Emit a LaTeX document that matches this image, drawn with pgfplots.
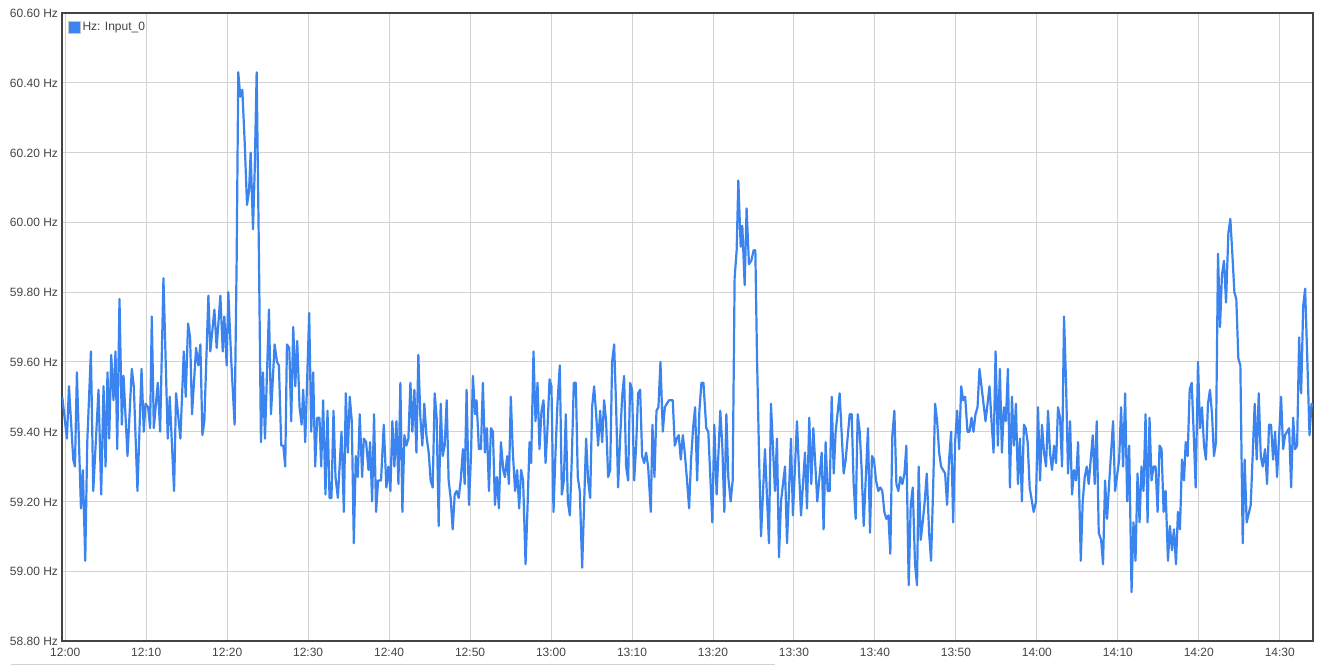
\documentclass[border=0pt]{standalone}
\usepackage{fontspec}
\setmainfont{Liberation Sans}
\usepackage{pgfplots}
\pgfplotsset{compat=1.18}
\definecolor{hzblue}{HTML}{3B84F0}
\definecolor{gridgray}{HTML}{D2D2D2}
\definecolor{framegray}{HTML}{444444}
\definecolor{labelgray}{HTML}{444444}
\begin{document}
\begin{tikzpicture}
\path[use as bounding box] (-62pt,-25pt) rectangle (1262pt,641pt);
\begin{axis}[
  at={(0pt,0pt)}, anchor=south west,
  scale only axis,
  width=1251pt, height=628pt,
  xmin=-0.4, xmax=154.1,
  ymin=58.8, ymax=60.6,
  xtick={0,10,20,30,40,50,60,70,80,90,100,110,120,130,140,150},
  xticklabels={12:00,12:10,12:20,12:30,12:40,12:50,13:00,13:10,13:20,13:30,13:40,13:50,14:00,14:10,14:20,14:30},
  ytick={58.8,59.0,59.2,59.4,59.6,59.8,60.0,60.2,60.4,60.6},
  /pgf/number format/assume math mode=true,
  yticklabel={\pgfmathprintnumber[fixed,fixed zerofill,precision=2]{\tick}~Hz},
  grid=major,
  major grid style={gridgray, line width=1pt},
  major tick length=0pt,
  axis line style={framegray, line width=2pt},
  tick label style={font=\fontsize{12}{14}\selectfont, text=labelgray},
  xticklabel style={yshift=-3.5pt},
  yticklabel style={yshift=-0.5pt, xshift=-0.5pt},
  legend style={at={(0,1)}, anchor=north west, xshift=5.5pt, yshift=-7pt,
    draw=none, fill=none, inner sep=0pt,
    font=\fontsize{12}{14}\selectfont, text=labelgray,
    /tikz/every even column/.append style={column sep=0pt}},
  legend cell align=left,
  legend image code/.code={\filldraw[fill=hzblue, draw=gray!45, line width=0.8pt] (0pt,-6pt) rectangle (12pt,6pt);},
]
\addplot[hzblue, line width=2.2pt, line join=round, mark=none] coordinates {
(-0.37,59.50)(0.21,59.38)(0.46,59.53)(0.99,59.32)(1.20,59.30)(1.44,59.57)(1.94,59.18)(2.18,59.29)(2.47,59.03)(2.72,59.37)(3.17,59.63)(3.46,59.23)(4.11,59.52)(4.44,59.22)(4.73,59.53)(4.98,59.30)(5.22,59.57)(5.43,59.38)(5.68,59.62)(5.96,59.49)(6.21,59.63)(6.42,59.35)(6.70,59.78)(6.99,59.42)(7.20,59.56)(7.69,59.33)(8.22,59.58)(8.47,59.53)(8.92,59.23)(9.42,59.58)(9.70,59.40)(9.91,59.48)(10.24,59.47)(10.48,59.41)(10.69,59.73)(10.94,59.41)(11.43,59.54)(11.72,59.40)(12.13,59.84)(12.66,59.38)(12.91,59.50)(13.44,59.23)(13.69,59.51)(14.22,59.38)(14.64,59.63)(14.88,59.50)(15.17,59.71)(15.42,59.67)(15.66,59.45)(16.16,59.64)(16.44,59.59)(16.69,59.65)(16.94,59.39)(17.18,59.43)(17.68,59.79)(17.92,59.63)(18.42,59.75)(18.70,59.64)(19.16,59.79)
(19.45,59.63)(19.65,59.73)(19.94,59.59)(20.14,59.80)(20.51,59.60)(20.92,59.42)(21.17,59.89)(21.37,60.43)(21.62,60.36)(21.87,60.38)(22.16,60.23)(22.45,60.05)(22.70,60.09)(22.90,60.20)(23.19,59.98)(23.40,60.15)(23.64,60.43)(23.93,59.89)(24.17,59.37)(24.42,59.57)(24.67,59.38)(25.16,59.75)(25.41,59.45)(25.86,59.65)(26.15,59.60)(26.39,59.59)(26.68,59.36)(26.93,59.36)(27.17,59.30)(27.38,59.65)(27.67,59.64)(27.91,59.43)(28.16,59.70)(28.41,59.53)(28.65,59.66)(28.94,59.47)(29.19,59.42)(29.39,59.52)(29.64,59.37)(30.13,59.74)(30.38,59.40)(30.62,59.57)(30.87,59.30)(31.12,59.44)(31.40,59.44)(31.61,59.30)(31.85,59.49)(32.14,59.22)(32.39,59.46)(32.64,59.21)(32.88,59.21)(33.13,59.46)(33.38,59.27)(33.67,59.21)(34.12,59.40)(34.41,59.17)(34.65,59.51)(34.90,59.34)(35.14,59.50)(35.39,59.43)(35.64,59.08)(35.88,59.33)(36.13,59.27)(36.37,59.45)(36.67,59.27)(36.87,59.38)(37.16,59.37)(37.45,59.29)(37.65,59.37)(37.90,59.20)(38.14,59.45)(38.39,59.17)(38.64,59.26)(39.00,59.26)(39.34,59.42)
(39.66,59.24)(39.91,59.30)(40.16,59.23)(40.40,59.43)(40.65,59.30)(40.90,59.43)(41.15,59.25)(41.39,59.54)(41.64,59.17)(41.89,59.39)(42.13,59.36)(42.38,59.38)(42.63,59.54)(42.87,59.40)(43.12,59.52)(43.37,59.34)(43.61,59.62)(43.86,59.44)(44.10,59.36)(44.35,59.48)(44.60,59.39)(44.89,59.34)(45.13,59.26)(45.38,59.24)(45.63,59.51)(45.87,59.44)(46.12,59.13)(46.37,59.48)(46.61,59.33)(46.86,59.36)(47.11,59.49)(47.35,59.26)(47.60,59.21)(47.85,59.12)(48.10,59.22)(48.34,59.23)(48.59,59.21)(48.84,59.26)(49.12,59.35)(49.33,59.25)(49.57,59.52)(49.86,59.19)(50.11,59.33)(50.35,59.56)(50.60,59.45)(50.80,59.49)(51.09,59.35)(51.34,59.35)(51.58,59.54)(51.83,59.34)(52.08,59.41)(52.33,59.23)(52.57,59.41)(52.82,59.40)(53.07,59.19)(53.31,59.27)(53.56,59.18)(53.81,59.37)(54.10,59.29)(54.30,59.27)(54.58,59.33)(54.79,59.25)(55.03,59.50)(55.28,59.34)(55.56,59.23)(55.81,59.29)(56.06,59.18)(56.30,59.29)(56.55,59.26)(56.85,59.02)(57.09,59.18)(57.34,59.37)(57.54,59.31)(57.83,59.63)(58.08,59.43)(58.33,59.54)(58.57,59.35)
(58.82,59.46)(59.07,59.49)(59.32,59.31)(59.56,59.41)(59.81,59.55)(60.05,59.53)(60.30,59.17)(60.55,59.34)(60.79,59.48)(61.08,59.59)(61.33,59.22)(61.58,59.26)(61.82,59.45)(62.07,59.20)(62.32,59.16)(62.56,59.32)(62.81,59.54)(63.06,59.54)(63.30,59.27)(63.55,59.23)(63.84,59.01)(64.08,59.19)(64.33,59.38)(64.58,59.26)(64.83,59.21)(65.07,59.47)(65.32,59.53)(65.57,59.45)(65.81,59.36)(66.06,59.46)(66.31,59.37)(66.55,59.49)(66.80,59.43)(67.05,59.27)(67.30,59.29)(67.54,59.60)(67.79,59.65)(68.04,59.47)(68.28,59.24)(68.53,59.38)(68.78,59.50)(69.02,59.56)(69.27,59.30)(69.52,59.26)(69.76,59.54)(70.01,59.52)(70.26,59.26)(70.51,59.36)(70.75,59.51)(71.00,59.52)(71.25,59.33)(71.50,59.31)(71.74,59.34)(71.99,59.30)(72.32,59.17)(72.52,59.42)(72.77,59.27)(73.02,59.46)(73.26,59.47)(73.51,59.60)(73.80,59.40)(74.05,59.47)(74.29,59.48)(74.58,59.49)(75.03,59.49)(75.28,59.36)(75.53,59.38)(75.77,59.39)(76.02,59.32)(76.27,59.39)(76.51,59.34)(76.76,59.27)(77.05,59.18)(77.29,59.32)(77.54,59.41)(77.79,59.47)(78.04,59.26)(78.32,59.46)(78.57,59.54)(78.82,59.54)
(79.17,59.41)(79.42,59.40)(79.92,59.14)(80.16,59.42)(80.45,59.22)(80.90,59.46)(81.15,59.36)(81.40,59.17)(81.65,59.45)(81.89,59.27)(82.18,59.20)(82.43,59.26)(82.67,59.84)(82.92,59.92)(83.13,60.12)(83.42,59.93)(83.62,59.99)(83.91,59.82)(84.15,60.04)(84.44,59.88)(84.73,59.89)(85.02,59.92)(85.23,59.92)(85.43,59.62)(85.68,59.34)(85.93,59.10)(86.42,59.35)(86.91,59.08)(87.16,59.48)(87.65,59.23)(87.90,59.38)(88.15,59.04)(88.40,59.20)(88.89,59.30)(89.14,59.08)(89.63,59.38)(89.87,59.16)(90.37,59.43)(90.62,59.29)(90.87,59.16)(91.36,59.34)(91.61,59.18)(91.89,59.44)(92.14,59.25)(92.39,59.41)(92.88,59.20)(93.42,59.34)(93.66,59.12)(93.91,59.37)(94.16,59.23)(94.41,59.23)(94.66,59.50)(94.91,59.28)(95.15,59.40)(95.64,59.51)(96.14,59.28)(96.39,59.32)(96.88,59.45)(97.13,59.45)(97.37,59.25)(97.62,59.15)(97.87,59.45)(98.12,59.40)(98.36,59.29)(98.61,59.13)
(99.14,59.41)(99.39,59.11)(99.63,59.33)(99.88,59.32)(100.13,59.26)(100.42,59.23)(100.66,59.24)(100.91,59.23)(101.16,59.17)(101.41,59.15)(101.66,59.16)(101.90,59.05)(102.15,59.39)(102.40,59.46)(102.65,59.25)(102.89,59.23)(103.14,59.27)(103.39,59.25)(103.64,59.28)(103.88,59.36)(104.17,58.96)(104.42,59.19)(104.67,59.24)(104.95,59.02)(105.20,58.96)(105.40,59.30)(105.65,59.09)(105.90,59.14)(106.15,59.20)(106.40,59.28)(106.69,59.11)(106.93,59.03)(107.18,59.23)(107.43,59.48)(107.68,59.43)(107.93,59.34)(108.17,59.30)(108.42,59.29)(108.67,59.28)(108.91,59.19)(109.16,59.32)(109.41,59.40)(109.66,59.14)(109.90,59.37)(110.15,59.46)(110.40,59.35)(110.65,59.53)(110.90,59.49)(111.14,59.50)(111.43,59.40)(111.68,59.40)(111.93,59.44)(112.17,59.40)(112.42,59.45)(112.67,59.47)(112.91,59.58)(113.16,59.53)(113.66,59.43)(114.15,59.53)(114.40,59.43)(114.65,59.34)(114.90,59.63)(115.18,59.36)(115.43,59.58)(115.68,59.34)(115.93,59.47)(116.17,59.43)(116.42,59.58)(116.67,59.24)(116.92,59.50)(117.16,59.36)(117.41,59.48)(117.66,59.25)(117.91,59.38)(118.15,59.20)(118.40,59.42)
(118.62,59.41)(118.86,59.37)(119.11,59.24)(119.60,59.17)(119.89,59.20)(120.14,59.47)(120.39,59.26)(120.63,59.42)(120.88,59.34)(121.13,59.30)(121.38,59.46)(121.62,59.34)(121.87,59.29)(122.12,59.36)(122.37,59.31)(122.61,59.47)(122.86,59.44)(123.11,59.30)(123.35,59.73)(123.60,59.54)(123.85,59.28)(124.10,59.43)(124.34,59.22)(124.59,59.29)(124.84,59.26)(125.09,59.37)(125.42,59.03)(125.66,59.20)(125.91,59.27)(126.16,59.30)(126.40,59.25)(126.90,59.39)(127.14,59.25)(127.39,59.43)(127.64,59.11)(127.93,59.09)(128.17,59.02)(128.42,59.26)(128.67,59.15)(128.92,59.25)(129.41,59.43)(129.66,59.23)(130.16,59.32)(130.40,59.47)(130.65,59.30)(130.90,59.51)(131.15,59.20)(131.40,59.36)(131.69,58.94)(131.93,59.14)(132.18,59.03)(132.43,59.28)(132.68,59.14)(132.92,59.30)(133.17,59.23)(133.42,59.45)(133.67,59.14)(133.91,59.44)(134.16,59.26)(134.41,59.30)(134.66,59.30)(134.91,59.17)(135.15,59.36)(135.40,59.35)(135.65,59.17)(135.90,59.23)(136.19,59.03)(136.43,59.13)(136.68,59.06)(136.93,59.12)(137.18,59.02)(137.42,59.17)(137.67,59.12)(137.92,59.32)(138.17,59.26)
(138.38,59.37)(138.62,59.33)(138.87,59.52)(139.12,59.54)(139.36,59.40)(139.61,59.24)(139.90,59.60)(140.14,59.41)(140.39,59.47)(140.64,59.36)(140.88,59.32)(141.13,59.48)(141.38,59.52)(141.63,59.45)(141.87,59.33)(142.12,59.37)(142.37,59.91)(142.62,59.70)(142.86,59.85)(143.11,59.89)(143.36,59.77)(143.65,59.97)(143.89,60.01)(144.14,59.91)(144.39,59.80)(144.63,59.78)(144.88,59.61)(145.13,59.59)(145.42,59.08)(145.66,59.32)(145.91,59.14)(146.41,59.19)(146.90,59.48)(147.15,59.32)(147.40,59.51)(147.65,59.33)(147.89,59.30)(148.18,59.35)(148.43,59.25)(148.67,59.42)(148.92,59.42)(149.17,59.32)(149.42,59.40)(149.66,59.27)(150.16,59.50)(150.41,59.35)(150.65,59.39)(151.15,59.41)(151.40,59.24)(151.65,59.44)(151.89,59.35)(152.14,59.36)(152.39,59.67)(152.64,59.51)(152.89,59.76)(153.13,59.81)(153.38,59.62)(153.67,59.39)(153.92,59.48)(154.25,59.47)
};
\addlegendentry{Hz: Input\_0}
\end{axis}
\draw[gridgray, line width=1.5pt] (-51pt,-23.5pt) -- (713pt,-23.5pt);
\end{tikzpicture}
\end{document}
